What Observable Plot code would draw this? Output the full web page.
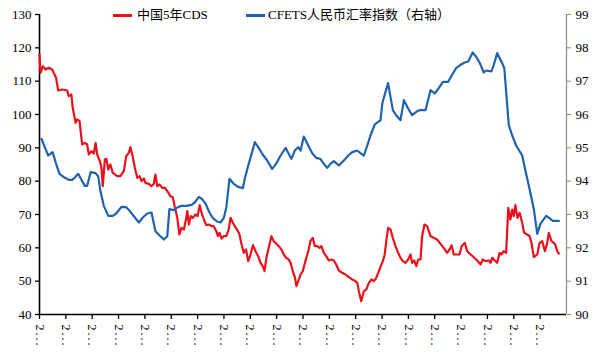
<!DOCTYPE html>
<html>
<head>
<meta charset="utf-8">
<script src="https://cdn.jsdelivr.net/npm/d3@7"></script>
<script src="https://cdn.jsdelivr.net/npm/@observablehq/plot@0.6"></script>
<style>
  html, body { margin: 0; padding: 0; background: #fff; }
  #wrap { position: relative; width: 605px; height: 354px; overflow: hidden; font-family: "Liberation Serif", "Noto Sans CJK SC", serif; }
  #legend { position: absolute; left: 0; top: 0; width: 605px; height: 28px; font-size: 13px; color: #000; }
  .sw { position: absolute; top: 14px; height: 2.5px; width: 19px; }
  .lt { position: absolute; top: 6px; line-height: 17px; white-space: nowrap; }
  g[aria-label="x-axis tick label"] text { letter-spacing: 2px; }
</style>
</head>
<body>
<div id="wrap">
  <div id="chart"></div>
  <div id="legend"></div>
</div>
<script>
// ---- data (x = period index along the axis, 20 labelled periods) ----
const seriesNames = ["中国5年CDS", "CFETS人民币汇率指数（右轴）"];
const seriesColors = ["#e8121c", "#1f63b0"];

const cdsT = [0.00,0.04,0.13,0.23,0.35,0.48,0.54,0.63,0.71,0.86,1.05,1.11,1.21,1.26,1.37,1.43,1.52,1.62,1.72,1.81,1.87,1.97,2.06,2.13,2.19,2.29,2.35,2.40,2.48,2.54,2.61,2.69,2.78,2.95,3.07,3.20,3.29,3.39,3.45,3.52,3.62,3.71,3.80,3.87,3.96,4.02,4.15,4.25,4.34,4.40,4.47,4.55,4.66,4.76,4.85,4.97,5.06,5.14,5.23,5.31,5.39,5.48,5.57,5.61,5.67,5.74,5.82,5.92,6.00,6.08,6.15,6.24,6.33,6.43,6.53,6.61,6.71,6.77,6.83,6.91,6.99,7.09,7.18,7.25,7.34,7.44,7.50,7.59,7.67,7.75,7.84,7.92,8.01,8.10,8.20,8.30,8.39,8.47,8.54,8.61,8.70,8.80,8.89,8.98,9.08,9.18,9.27,9.36,9.46,9.53,9.61,9.69,9.75,9.84,9.91,9.99,10.09,10.20,10.28,10.37,10.45,10.54,10.63,10.70,10.79,10.88,10.98,11.08,11.17,11.26,11.36,11.49,11.61,11.74,11.87,11.99,12.06,12.12,12.21,12.31,12.40,12.50,12.60,12.69,12.78,12.88,12.94,13.03,13.10,13.16,13.23,13.32,13.41,13.51,13.61,13.70,13.79,13.89,13.99,14.08,14.14,14.22,14.30,14.37,14.46,14.52,14.61,14.71,14.84,14.96,15.09,15.22,15.34,15.47,15.56,15.64,15.72,15.85,15.94,16.02,16.14,16.23,16.36,16.48,16.61,16.74,16.82,16.93,17.05,17.12,17.18,17.28,17.37,17.46,17.53,17.62,17.71,17.79,17.87,17.94,18.00,18.06,18.14,18.22,18.32,18.39,18.51,18.60,18.67,18.76,18.89,18.98,19.08,19.18,19.27,19.33,19.43,19.56,19.65,19.71];
const cdsV = [118,112.5,114.5,113.5,114,113.5,112.5,111,107.2,107.5,107.2,105.5,106,102,97.5,98.5,98,91,91.5,91,88,89,88.3,91.5,88,86,84,78.5,86.5,86.7,83.5,85,82.5,81.5,81.5,83,87.5,88.5,90.2,88,84,81,81.5,80,80.8,79.5,79.2,78.5,79.2,82,78.5,79,78,78,77,75.5,75.2,72,69,64,66,65.5,69,71,67,69.5,69,70,69.5,72.8,70.5,68.5,66.8,67,66.5,66.5,65,63.5,64.5,62.8,63.5,63.5,65.5,69,67.5,66,65.5,64,61,58.5,59.5,56,58,60.8,59,57.5,55.5,54.5,53,57,60,63.5,62,61.3,60.5,59.5,58,57,56.5,55.5,53,51.2,48.5,50.5,52,53,56,59,62,63,60.5,60.5,60,60.5,58.5,57.5,56.2,56.5,56.2,55,53.2,52.5,52,51.2,50.5,50,49.5,47,44,47,47.5,49.5,50.5,50,51,53,54.2,56,58,62,66,65.5,63,60.5,58.5,57,56,55.5,56.5,58,55.5,56.2,54.5,56.5,56.5,63.5,67,66.5,63.5,63,62.5,61.2,60,58.5,59.5,60.8,58,58,58,60.5,61.5,59,58,57.2,56.2,55,56.5,56,56.2,55.5,57,56.2,55.5,58.5,58,59,58.5,72,68.5,71.5,69.5,72.8,69,70.5,67.5,64.5,64,63.5,61.5,57.2,58,61.5,62,59,61.5,64.5,62,61.2,59,58.3];

const cfetsT = [0.08,0.20,0.33,0.50,0.63,0.76,0.96,1.11,1.24,1.34,1.47,1.59,1.72,1.81,1.94,2.13,2.23,2.31,2.44,2.61,2.78,2.91,3.11,3.29,3.42,3.62,3.77,3.92,4.09,4.25,4.40,4.55,4.72,4.85,4.93,5.10,5.23,5.39,5.57,5.77,5.89,6.05,6.17,6.30,6.45,6.58,6.74,6.87,6.99,7.09,7.21,7.37,7.54,7.72,7.79,7.94,8.05,8.17,8.32,8.47,8.64,8.83,8.98,9.15,9.34,9.49,9.56,9.69,9.82,9.91,10.03,10.20,10.35,10.50,10.66,10.79,10.92,11.04,11.17,11.36,11.55,11.72,11.87,12.06,12.18,12.31,12.44,12.56,12.72,12.85,12.94,13.01,13.13,13.23,13.32,13.41,13.54,13.70,13.83,13.99,14.14,14.30,14.42,14.58,14.65,14.84,15.00,15.15,15.31,15.51,15.66,15.81,15.98,16.14,16.27,16.44,16.61,16.74,16.86,16.95,17.15,17.24,17.37,17.53,17.64,17.71,17.81,17.94,18.09,18.32,18.44,18.60,18.76,18.89,19.01,19.14,19.23,19.35,19.48,19.71];
const cfetsV = [95.27,95.02,94.77,94.87,94.52,94.22,94.10,94.04,94.04,94.11,94.22,94.04,93.86,93.86,94.27,94.24,94.14,93.71,93.26,92.96,92.96,93.03,93.23,93.22,93.11,92.91,92.76,92.91,93.03,93.06,92.50,92.38,92.25,92.35,93.16,93.13,93.21,93.26,93.26,93.29,93.36,93.53,93.46,93.33,93.06,92.89,92.79,92.76,92.89,93.21,94.07,93.92,93.83,93.79,94.07,94.52,94.82,95.17,95.00,94.80,94.62,94.37,94.52,94.77,95.00,94.77,94.67,94.92,95.02,94.92,95.34,95.07,94.84,94.70,94.67,94.52,94.40,94.52,94.60,94.47,94.62,94.77,94.87,94.92,94.84,94.77,95.07,95.37,95.70,95.78,95.82,96.33,96.68,96.94,96.53,96.13,95.97,95.83,96.43,96.18,95.98,96.08,96.13,96.13,96.13,96.73,96.63,96.79,96.98,96.98,97.19,97.39,97.49,97.56,97.59,97.86,97.69,97.49,97.26,97.32,97.29,97.49,97.84,97.59,97.39,96.68,95.68,95.37,95.07,94.77,94.32,93.76,93.16,92.42,92.72,92.86,92.96,92.89,92.81,92.81];

const leftTicks = [40,50,60,70,80,90,100,110,120,130];
const rightTicks = [90,91,92,93,94,95,96,97,98,99];
const xTickLabels = ["2...","2...","2...","2...","2...","2...","2...","2...","2...","2...","2...","2...","2...","2...","2...","2...","2...","2...","2...","2..."];

// ---- build tables ----
const rightToLeft = r => 40 + (r - 90) * 10;
const leftToRight = l => 90 + (l - 40) / 10;
const cds = cdsT.map((t, i) => ({t, v: cdsV[i]}));
const cfets = cfetsT.map((t, i) => ({t, v: rightToLeft(cfetsV[i])}));
const xTickPos = xTickLabels.map((_, i) => i);

const font = '"Liberation Serif", "Noto Sans CJK SC", serif';

const chart = Plot.plot({
  width: 605,
  height: 354,
  marginTop: 14,
  marginBottom: 40,
  marginLeft: 39,
  marginRight: 39,
  style: {fontFamily: font, fontSize: "13px", color: "#000", background: "#fff", overflow: "visible"},
  x: {domain: [0, 20]},
  y: {domain: [40, 130]},
  marks: [
    Plot.axisY(leftTicks, {anchor: "left", tickSize: 4, tickPadding: 4, fontSize: 13, label: null, stroke: "#000", strokeWidth: 1.3}),
    Plot.axisY(rightTicks.map(rightToLeft), {anchor: "right", tickSize: 4, tickPadding: 5, fontSize: 13, label: null, stroke: "#8a8a8a", fill: "#000", tickFormat: d => String(Math.round(leftToRight(d)))}),
    Plot.axisX(xTickPos, {anchor: "bottom", tickSize: 5, tickPadding: 5, tickRotate: 90, fontSize: 12, label: null, stroke: "#000", strokeWidth: 1.3, tickFormat: (d, i) => xTickLabels[i]}),
    Plot.ruleX([20], {stroke: "#8a8a8a", strokeWidth: 1.2}),
    Plot.ruleX([0], {stroke: "#000", strokeWidth: 1.6}),
    Plot.ruleY([40], {stroke: "#000", strokeWidth: 1.6}),
    Plot.line(cds, {x: "t", y: "v", stroke: seriesColors[0], strokeWidth: 2.2, curve: "linear"}),
    Plot.line(cfets, {x: "t", y: "v", stroke: seriesColors[1], strokeWidth: 2.2, curve: "linear"})
  ]
});
document.getElementById("chart").appendChild(chart);

// ---- legend ----
const legend = document.getElementById("legend");
const legendPos = [{sw: 113, tx: 137}, {sw: 246, tx: 268}];
seriesNames.forEach((name, i) => {
  const sw = document.createElement("div");
  sw.className = "sw";
  sw.style.left = legendPos[i].sw + "px";
  sw.style.background = seriesColors[i];
  legend.appendChild(sw);
  const tx = document.createElement("div");
  tx.className = "lt";
  tx.style.left = legendPos[i].tx + "px";
  tx.textContent = name;
  legend.appendChild(tx);
});
</script>
</body>
</html>
